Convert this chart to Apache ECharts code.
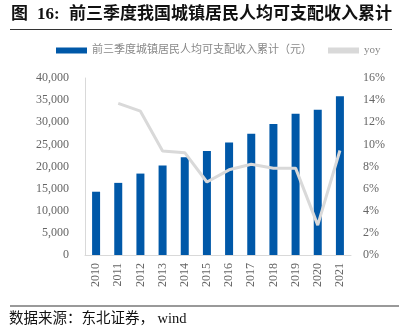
<!DOCTYPE html>
<html><head><meta charset="utf-8">
<script src="https://cdn.jsdelivr.net/npm/echarts@6/dist/echarts.min.js"></script>
<style>html,body{margin:0;padding:0;background:#fff}#c{width:399px;height:334px}</style>
</head><body><div id="c"></div>
<script>
const categories = ['2010','2011','2012','2013','2014','2015','2016','2017','2018','2019','2020','2021'];
const incomeValues = [14300, 16300, 18400, 20200, 22100, 23500, 25400, 27400, 29600, 31900, 32800, 35900];
const yoyValues = [null, 13.7, 13.0, 9.4, 9.25, 6.6, 7.7, 8.2, 7.85, 7.85, 2.7, 9.45];
const leftTicks = [0, 40000, 5000];
const rightTicks = [0, 16, 2];

const chart = echarts.init(document.getElementById('c'));
const serif = '"Liberation Serif", "Noto Sans CJK SC", serif';
const titleFont = 'bold 17px "Liberation Serif", "Noto Sans CJK SC", serif';
chart.setOption({
  animation: false,
  textStyle: {fontFamily: serif},
  graphic: [
    {type: 'text', left: 11, top: 6, style: {text: '图', font: titleFont, fill: '#111'}},
    {type: 'text', left: 37, top: 6, style: {text: '16:', font: titleFont, fill: '#111'}},
    {type: 'text', left: 69, top: 6, style: {text: '前三季度我国城镇居民人均可支配收入累计', font: titleFont, fill: '#111'}},
    {type: 'line', shape: {x1: 10, y1: 29.5, x2: 392, y2: 29.5}, style: {stroke: '#333', lineWidth: 1}},
    {type: 'line', shape: {x1: 10, y1: 306, x2: 399, y2: 306}, style: {stroke: '#999', lineWidth: 2}},
    {type: 'text', left: 9, top: 312, style: {text: '数据来源：东北证券， wind', font: '14.5px "Liberation Serif", "Noto Sans CJK SC", serif', fill: '#111'}}
  ],
  legend: {
    top: 40, left: 51, itemGap: 16, itemWidth: 31, itemHeight: 6,
    textStyle: {color: '#888', fontSize: 11, fontFamily: serif},
    data: [
      {name: '前三季度城镇居民人均可支配收入累计（元）', icon: 'rect'},
      {name: 'yoy', icon: 'rect'}
    ]
  },
  grid: {left: 85, right: 48, top: 78, bottom: 79},
  xAxis: {
    type: 'category', data: categories,
    axisLine: {lineStyle: {color: '#d9d9d9'}},
    axisTick: {show: false},
    axisLabel: {rotate: 90, color: '#666', fontSize: 12, fontFamily: serif, margin: 8}
  },
  yAxis: [
    {type: 'value', min: leftTicks[0], max: leftTicks[1], interval: leftTicks[2],
     axisLine: {show: true, lineStyle: {color: '#d9d9d9'}}, axisTick: {show: false}, splitLine: {show: false},
     axisLabel: {color: '#666', fontSize: 12, fontFamily: serif, margin: 16,
       formatter: v => v.toLocaleString('en-US')}},
    {type: 'value', min: rightTicks[0], max: rightTicks[1], interval: rightTicks[2],
     axisLine: {show: false}, axisTick: {show: false}, splitLine: {show: false},
     axisLabel: {color: '#666', fontSize: 12, fontFamily: serif, margin: 12, formatter: v => v + '%'}}
  ],
  series: [
    {name: '前三季度城镇居民人均可支配收入累计（元）', type: 'bar', data: incomeValues, barWidth: 8,
     itemStyle: {color: '#0058a8'}},
    {name: 'yoy', type: 'line', yAxisIndex: 1, data: yoyValues, symbol: 'none',
     lineStyle: {color: '#d9d9d9', width: 3}, itemStyle: {color: '#d9d9d9'}}
  ]
});
</script></body></html>
